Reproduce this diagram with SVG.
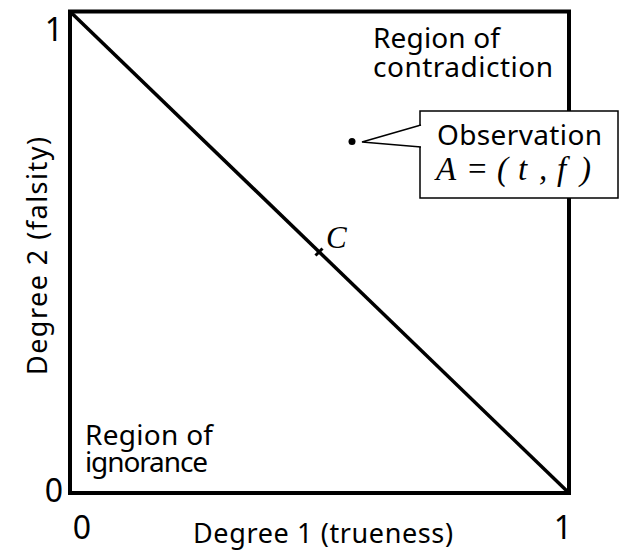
<svg xmlns="http://www.w3.org/2000/svg" width="623" height="551" viewBox="0 0 623 551">
<style>
.lbl{font-family:"Noto Sans","DejaVu Sans",sans-serif;font-size:28px;fill:#000}
.num{font-family:"Noto Sans","DejaVu Sans",sans-serif;font-size:32px;fill:#000}
.ax{font-family:"Noto Sans","DejaVu Sans",sans-serif;font-size:27px;fill:#000}
.math{font-family:"Liberation Serif","DejaVu Serif",serif;font-style:italic;font-size:33px;fill:#000}
.up{font-style:normal}
</style>
<rect width="623" height="551" fill="#fff"/>
<g id="connectors">
<rect id="frame" x="70" y="11.5" width="499" height="481.5" fill="none" stroke="#000" stroke-width="4"/>
<line id="diagonal" x1="70" y1="11.5" x2="569" y2="493" stroke="#000" stroke-width="3.5"/>
<line id="tickC" x1="315.5" y1="255.5" x2="322.5" y2="248.5" stroke="#000" stroke-width="3"/>
</g>
<g id="axis-labels">
<text class="num" x="54" y="41" text-anchor="middle">1</text>
<text class="num" x="54" y="502" text-anchor="middle">0</text>
<text class="num" x="82" y="539" text-anchor="middle">0</text>
<text class="num" x="563" y="539" text-anchor="middle">1</text>
<text class="ax" x="193" y="543" textLength="260" lengthAdjust="spacing">Degree 1 (trueness)</text>
<text class="ax" transform="translate(47,375) rotate(-90)" textLength="238" lengthAdjust="spacing">Degree 2 (falsity)</text>
</g>
<g id="region-contradiction">
<text class="lbl" x="373" y="48" textLength="127" lengthAdjust="spacing">Region of</text>
<text class="lbl" x="373" y="77" textLength="180" lengthAdjust="spacing">contradiction</text>
</g>
<g id="region-ignorance">
<text class="lbl" x="85" y="445" textLength="128" lengthAdjust="spacing">Region of</text>
<text class="lbl" x="85" y="472" textLength="123" lengthAdjust="spacing">ignorance</text>
</g>
<g id="pointC">
<text class="math" x="326" y="248" style="font-size:31px">C</text>
</g>
<g id="observation">
<circle cx="352" cy="141.5" r="3.5" fill="#000"/>
<rect x="420" y="111" width="198" height="87" fill="#fff" stroke="#000" stroke-width="1.5"/>
<polyline points="421,125 362,142 421,147" fill="#fff" stroke="#000" stroke-width="1.5"/>
<line x1="420.5" y1="126" x2="420.5" y2="146" stroke="#fff" stroke-width="2"/>
<text class="lbl" x="437" y="145" textLength="165" lengthAdjust="spacing">Observation</text>
<text class="math" y="180"><tspan x="436">A</tspan><tspan x="468" class="up">=</tspan><tspan x="497">(</tspan><tspan x="518">t</tspan><tspan x="539">,</tspan><tspan x="557">f</tspan><tspan x="580">)</tspan></text>
</g>
</svg>
